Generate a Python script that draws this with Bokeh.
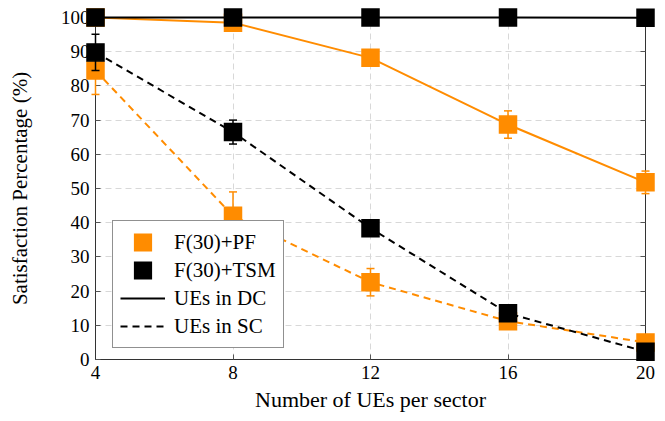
from bokeh.plotting import figure
from bokeh.models import LinearAxis, FixedTicker, Legend, LegendItem, Range1d
from bokeh.embed import file_html
from bokeh.resources import INLINE

# ---- data ----
ues = [4, 8, 12, 16, 20]
x_ticks = [4, 8, 12, 16, 20]
y_ticks = [0, 10, 20, 30, 40, 50, 60, 70, 80, 90, 100]

pf_dc = [100, 98.5, 88.2, 68.7, 51.8]
pf_dc_err = [0, 0.5, 1.0, 4.0, 3.3]
pf_sc = [84.5, 42, 22.6, 11.2, 5.0]
pf_sc_err = [7.0, 7.0, 4.0, 1.0, 1.0]
tsm_dc = [100, 100, 100, 100, 99.9]
tsm_dc_err = [0, 0, 0, 0, 0]
tsm_sc = [89.8, 66.5, 38.4, 13.5, 2.3]
tsm_sc_err = [5.3, 3.5, 1.0, 1.0, 0.5]

ORANGE = "#ff8c00"
BLACK = "#000000"
FONT = "Liberation Serif"
DASH = "7 5"
NAN = float("nan")

p = figure(width=665, height=421, output_backend="svg", toolbar_location=None,
           x_range=Range1d(4, 20), y_range=Range1d(0, 100),
           min_border_left=95, min_border_right=20, min_border_top=17,
           min_border_bottom=62)
p.background_fill_color = "white"
p.border_fill_color = "white"
p.outline_line_color = "#333333"
p.outline_line_width = 1

bottom = p.below[0]
left = p.left[0]
bottom.ticker = FixedTicker(ticks=x_ticks)
left.ticker = FixedTicker(ticks=y_ticks)
bottom.axis_label = "Number of UEs per sector"
left.axis_label = "Satisfaction Percentage (%)"

top = LinearAxis(ticker=FixedTicker(ticks=x_ticks),
                 major_label_overrides={t: "" for t in x_ticks})
right = LinearAxis(ticker=FixedTicker(ticks=y_ticks),
                   major_label_overrides={t: "" for t in y_ticks})
p.add_layout(top, "above")
p.add_layout(right, "right")

for ax in (bottom, left, top, right):
    ax.axis_line_color = "#333333"
    ax.major_tick_line_color = "#555555"
    ax.major_tick_in = 5
    ax.major_tick_out = 0
    ax.minor_tick_line_color = None
    ax.major_label_text_font = FONT
    ax.major_label_text_font_size = "19px"
    ax.major_label_text_color = "black"
    ax.axis_label_text_font = FONT
    ax.axis_label_text_font_style = "normal"
    ax.axis_label_text_color = "black"

top.major_label_standoff = 0
right.major_label_standoff = 0

bottom.major_label_standoff = 6
bottom.axis_label_standoff = 5
bottom.axis_label_text_font_size = "22px"
left.major_label_standoff = 6
left.axis_label_standoff = 26
left.axis_label_text_font_size = "21px"

# grid
p.xgrid.ticker = FixedTicker(ticks=x_ticks)
p.ygrid.ticker = FixedTicker(ticks=y_ticks)
p.grid.grid_line_color = "#d8d8d8"
p.grid.grid_line_dash = "6 4"
p.grid.grid_line_width = 1

LVL = "annotation"  # drawn unclipped, like pgfplots marks at the frame edge


def series(vals, errs, color, dash):
    p.line(ues, vals, line_color=color, line_width=2, line_dash=dash, level=LVL)
    lower = [v - e for v, e in zip(vals, errs)]
    upper = [v + e for v, e in zip(vals, errs)]
    p.segment(x0=ues, y0=lower, x1=ues, y1=upper, line_color=color,
              line_width=1.5, level=LVL)
    p.scatter(ues, upper, marker="dash", size=8, line_color=color,
              line_width=1.5, level=LVL)
    p.scatter(ues, lower, marker="dash", size=8, line_color=color,
              line_width=1.5, level=LVL)
    p.scatter(ues, vals, marker="square", size=17, fill_color=color,
              line_color=color, line_width=1.5, line_join="miter", level=LVL)


series(pf_dc, pf_dc_err, ORANGE, "solid")
series(pf_sc, pf_sc_err, ORANGE, DASH)
series(tsm_dc, tsm_dc_err, BLACK, "solid")
series(tsm_sc, tsm_sc_err, BLACK, DASH)

# legend-only renderers (no visible data)
r_pf = p.scatter(x=[NAN], y=[NAN], marker="square", fill_color=ORANGE,
                 line_color=ORANGE, line_width=7, line_join="miter")
r_tsm = p.scatter(x=[NAN], y=[NAN], marker="square", fill_color=BLACK,
                  line_color=BLACK, line_width=7, line_join="miter")
r_dc = p.line(x=[NAN, NAN], y=[NAN, NAN], line_color=BLACK, line_width=2)
r_sc = p.line(x=[NAN, NAN], y=[NAN, NAN], line_color=BLACK, line_width=2,
              line_dash=DASH)

legend = Legend(items=[
    LegendItem(label="F(30)+PF", renderers=[r_pf]),
    LegendItem(label="F(30)+TSM", renderers=[r_tsm]),
    LegendItem(label="UEs in DC", renderers=[r_dc]),
    LegendItem(label="UEs in SC", renderers=[r_sc]),
], location=(17, 11))
legend.label_text_font = FONT
legend.label_text_font_size = "21px"
legend.label_text_color = "black"
legend.glyph_width = 45
legend.glyph_height = 28
legend.label_height = 28
legend.label_standoff = 9
legend.spacing = 0
legend.padding = 7
legend.margin = 0
legend.border_line_color = "#222222"
legend.border_line_width = 1
legend.background_fill_color = "white"
legend.background_fill_alpha = 1.0
p.add_layout(legend)

open("out.html", "w").write(file_html(p, INLINE))
